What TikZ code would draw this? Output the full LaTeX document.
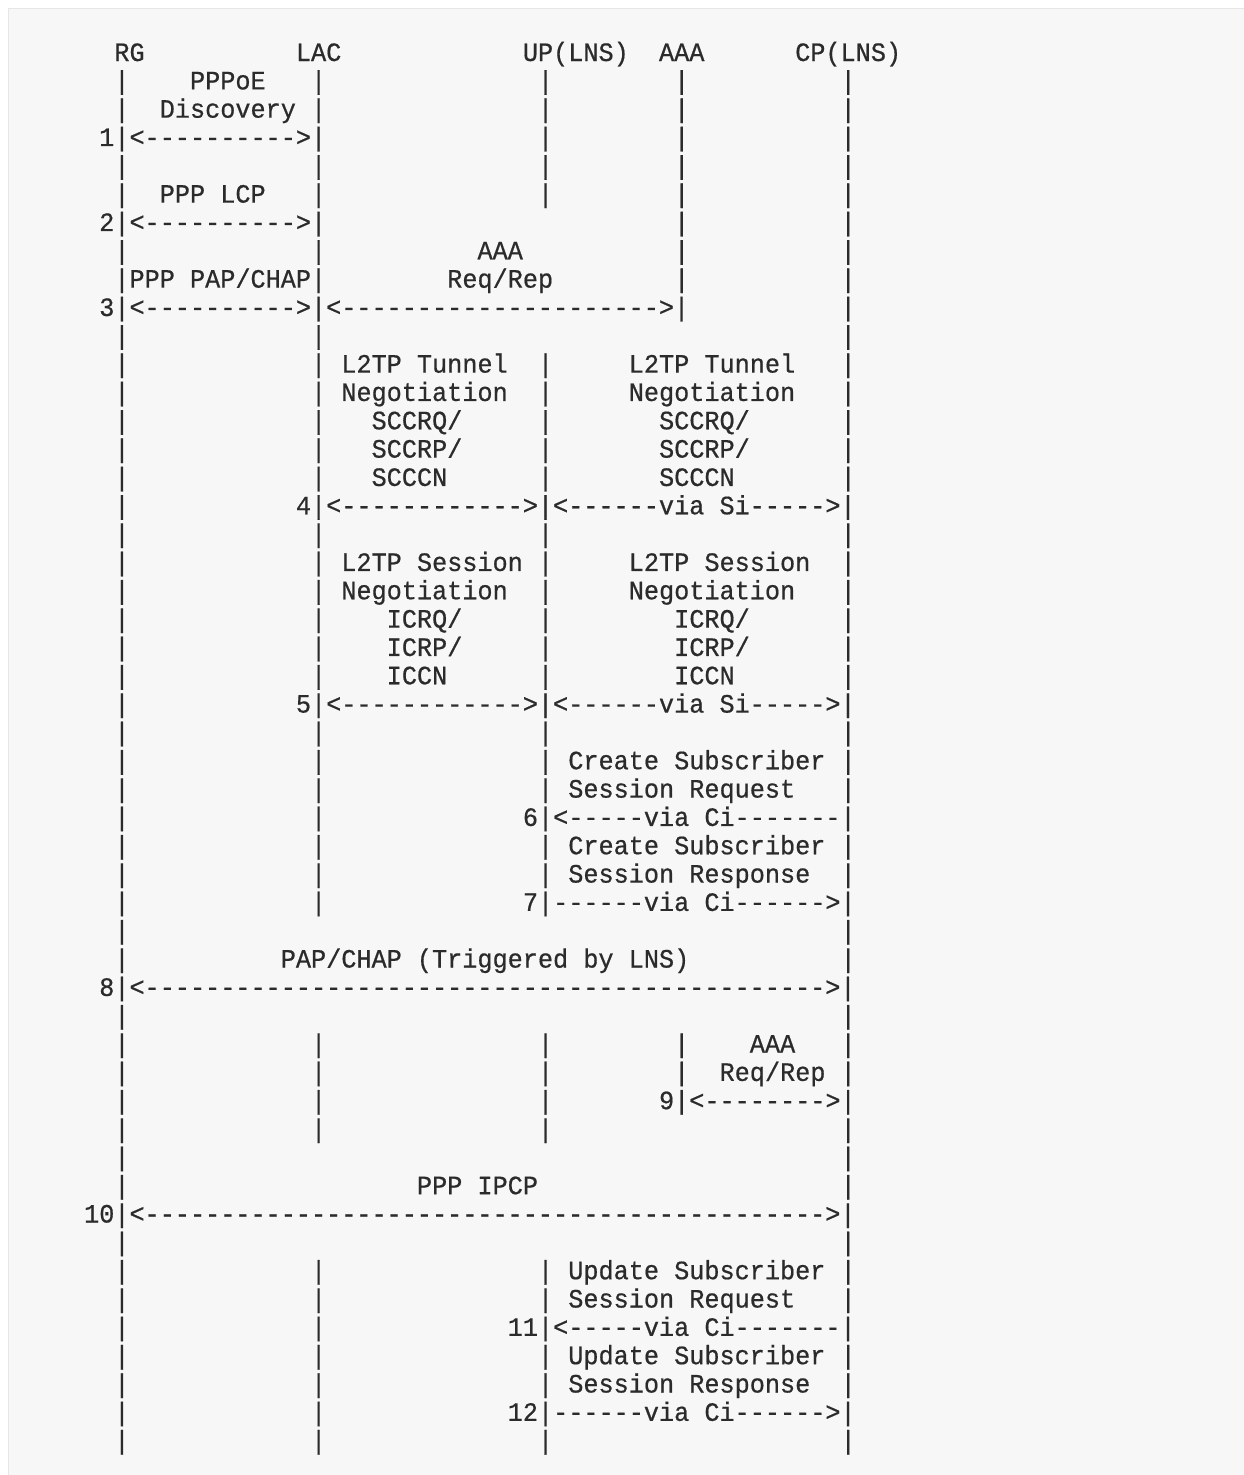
\documentclass[tikz,border=0pt]{standalone}
\usepackage{fontspec}
\setmonofont{Liberation Mono}[FakeStretch=0.9513, FakeBold=0.6]
\ExplSyntaxOn
\cs_new:Npn \dashrep #1 { \prg_replicate:nn {#1} {-} }
\ExplSyntaxOff
\definecolor{bgc}{HTML}{F7F7F7}
\definecolor{bdc}{HTML}{E6E6E6}
\definecolor{txtc}{HTML}{2B2B2B}
\def\cw{15.13}
\def\xo{23.6}
\def\rp{28.33}
\def\yo{61}
\tikzset{
  txt/.style={anchor=base west, inner sep=0pt, outer sep=0pt, text=txtc,
    font=\fontsize{26.5pt}{28.33pt}\selectfont\ttfamily}
}
\newcommand\T[3]{\node[txt] (t#1-#2) at ({\xo+#2*\cw},{\yo+#1*\rp}) {#3};}
\newcommand\B[2]{\foreach \rr in {#1}{\T{\rr}{#2}{|}}}
\begin{document}
\begin{tikzpicture}[x=1pt,y=-1pt]
\useasboundingbox (0,0) rectangle (1244,1475);
\fill[white] (0,0) rectangle (1244,1475);
\fill[bgc] (8,8) rectangle (1245,1476);
\draw[bdc, line width=1.2pt] (8.6,1476) -- (8.6,8.6) -- (1245,8.6);
% header
\T{0}{6}{RG}
\T{0}{18}{LAC}
\T{0}{33}{UP(LNS)}
\T{0}{42}{AAA}
\T{0}{51}{CP(LNS)}
% lifelines (rows where the bar is not part of a message line)
\B{1,2,4,5,7,10,11,...,32,34,35,...,40,42,43,...,49}{6}
\B{1,2,4,5,7,10,11,...,15,17,18,...,22,24,25,...,30,35,36,37,38,43,44,...,49}{19}
\B{1,...,5,11,12,...,15,17,18,...,22,24,25,26,28,29,35,36,37,38,43,44,46,47,49}{34}
\B{1,...,8,35,36}{43}
\B{1,...,15,17,18,...,22,24,25,26,28,29,31,32,34,35,36,38,39,40,42,43,44,46,47,49}{54}
% step 1
\T{1}{11}{PPPoE}
\T{2}{9}{Discovery}
\T{3}{5}{1|<\dashrep{10}>|}
% step 2
\T{5}{9}{PPP LCP}
\T{6}{5}{2|<\dashrep{10}>|}
% step 3
\T{7}{30}{AAA}
\T{8}{6}{|PPP PAP/CHAP|}
\T{8}{28}{Req/Rep}
\T{9}{5}{3|<\dashrep{10}>|<\dashrep{21}>|}
% step 4
\T{11}{21}{L2TP Tunnel}
\T{11}{40}{L2TP Tunnel}
\T{12}{21}{Negotiation}
\T{12}{40}{Negotiation}
\T{13}{23}{SCCRQ/}
\T{13}{42}{SCCRQ/}
\T{14}{23}{SCCRP/}
\T{14}{42}{SCCRP/}
\T{15}{23}{SCCCN}
\T{15}{42}{SCCCN}
\T{16}{18}{4|<\dashrep{12}>|<\dashrep{6}via Si\dashrep{5}>|}
% step 5
\T{18}{21}{L2TP Session}
\T{18}{40}{L2TP Session}
\T{19}{21}{Negotiation}
\T{19}{40}{Negotiation}
\T{20}{24}{ICRQ/}
\T{20}{43}{ICRQ/}
\T{21}{24}{ICRP/}
\T{21}{43}{ICRP/}
\T{22}{24}{ICCN}
\T{22}{43}{ICCN}
\T{23}{18}{5|<\dashrep{12}>|<\dashrep{6}via Si\dashrep{5}>|}
% step 6, 7
\T{25}{36}{Create Subscriber}
\T{26}{36}{Session Request}
\T{27}{33}{6|<\dashrep{5}via Ci\dashrep{7}|}
\T{28}{36}{Create Subscriber}
\T{29}{36}{Session Response}
\T{30}{33}{7|\dashrep{6}via Ci\dashrep{6}>|}
% step 8
\T{32}{17}{PAP/CHAP (Triggered by LNS)}
\T{33}{5}{8|<\dashrep{45}>|}
% step 9
\T{35}{48}{AAA}
\T{36}{46}{Req/Rep}
\T{37}{42}{9|<\dashrep{8}>|}
% step 10
\T{40}{26}{PPP IPCP}
\T{41}{4}{10|<\dashrep{45}>|}
% step 11, 12
\T{43}{36}{Update Subscriber}
\T{44}{36}{Session Request}
\T{45}{32}{11|<\dashrep{5}via Ci\dashrep{7}|}
\T{46}{36}{Update Subscriber}
\T{47}{36}{Session Response}
\T{48}{32}{12|\dashrep{6}via Ci\dashrep{6}>|}
\end{tikzpicture}
\end{document}
